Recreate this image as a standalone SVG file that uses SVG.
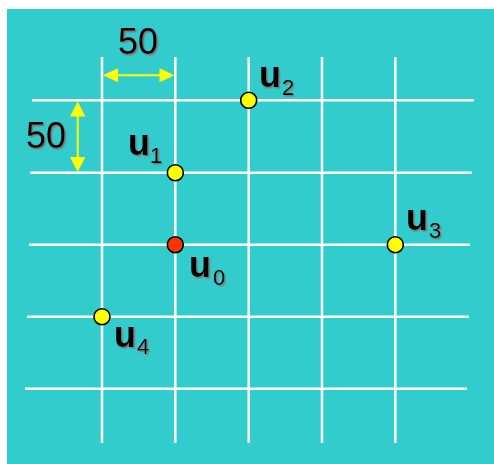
<svg xmlns="http://www.w3.org/2000/svg" width="494" height="464" viewBox="0 0 494 464">
<defs>
<filter id="sh" x="-20%" y="-20%" width="140%" height="140%">
<feDropShadow dx="1.5" dy="1.5" stdDeviation="0.4" flood-color="#7a7a7a" flood-opacity="1"/>
</filter>
</defs>
<style>
.g{stroke:#ffffff;stroke-width:2.5;fill:none}
.a{stroke:#ffff00;stroke-width:2;fill:none}
.ah{fill:#ffff00}
.pt{fill:#ffff00;stroke:#000;stroke-width:1.6}
.p0{fill:#ff3300;stroke:#000;stroke-width:1.6}
.lb{font-family:"Liberation Sans",Arial,sans-serif;font-weight:bold;font-size:36px;fill:#000;filter:url(#sh)}
.sb{font-size:22px;font-weight:normal}
.n{font-family:"Liberation Sans",Arial,sans-serif;font-size:36px;fill:#000;filter:url(#sh)}
</style>
<rect x="7" y="9" width="487" height="455" fill="#33cccc"/>
<g id="grid">
<line class="g" x1="102" y1="57" x2="102" y2="443"/>
<line class="g" x1="175.3" y1="57" x2="175.3" y2="443"/>
<line class="g" x1="248.7" y1="57" x2="248.7" y2="443"/>
<line class="g" x1="322" y1="57" x2="322" y2="443"/>
<line class="g" x1="395.3" y1="57" x2="395.3" y2="443"/>
<line class="g" x1="32" y1="100.3" x2="474" y2="100.3"/>
<line class="g" x1="30" y1="172.7" x2="472" y2="172.7"/>
<line class="g" x1="29" y1="244.7" x2="470" y2="244.7"/>
<line class="g" x1="27" y1="316.7" x2="469" y2="316.7"/>
<line class="g" x1="25" y1="388.7" x2="467" y2="388.7"/>
</g>
<g id="connectors">
<line class="a" x1="110" y1="75.3" x2="168" y2="75.3"/>
<polygon class="ah" points="103,75.3 118,68.3 118,82.3"/>
<polygon class="ah" points="174.5,75.3 159.5,68.3 159.5,82.3"/>
<line class="a" x1="77.7" y1="110" x2="77.7" y2="165"/>
<polygon class="ah" points="77.7,101.5 70,116.5 85.4,116.5"/>
<polygon class="ah" points="77.7,172 70,157 85.4,157"/>
</g>
<g id="dim-h"><text class="n" x="118" y="54">50</text></g>
<g id="dim-v"><text class="n" x="26" y="148">50</text></g>
<g id="u0"><circle class="p0" cx="175.3" cy="244.7" r="8"/><text class="lb" x="189" y="277">u<tspan class="sb" x="213" y="285">0</tspan></text></g>
<g id="u1"><circle class="pt" cx="175.3" cy="172.7" r="8"/><text class="lb" x="128" y="155">u<tspan class="sb" x="150" y="163">1</tspan></text></g>
<g id="u2"><circle class="pt" cx="248.7" cy="100.3" r="8"/><text class="lb" x="259" y="87">u<tspan class="sb" x="282" y="95">2</tspan></text></g>
<g id="u3"><circle class="pt" cx="395.3" cy="244.7" r="8"/><text class="lb" x="406" y="230">u<tspan class="sb" x="429" y="238">3</tspan></text></g>
<g id="u4"><circle class="pt" cx="102" cy="316.7" r="8"/><text class="lb" x="114" y="347">u<tspan class="sb" x="137" y="354">4</tspan></text></g>
</svg>
